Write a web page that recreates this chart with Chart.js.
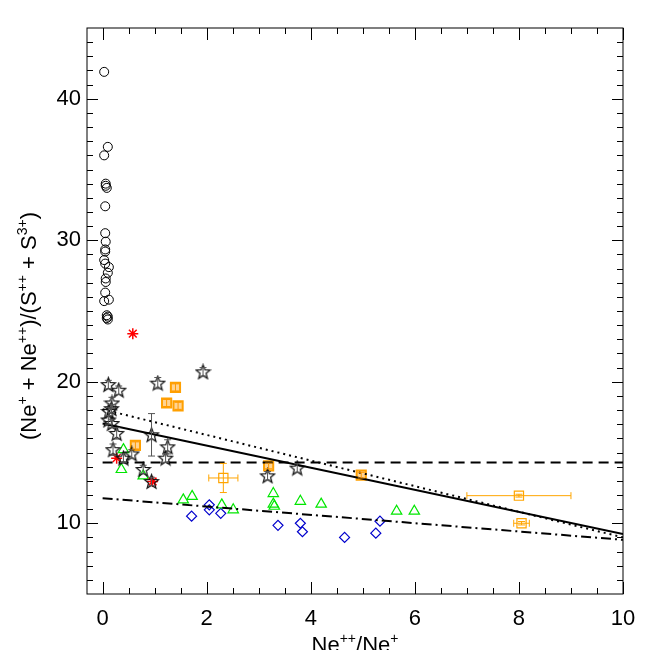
<!DOCTYPE html>
<html>
<head>
<meta charset="utf-8">
<script src="https://cdn.jsdelivr.net/npm/chart.js@4.4.1/dist/chart.umd.min.js"></script>
<style>
  html, body { margin: 0; padding: 0; background: #fff; }
</style>
</head>
<body>
<canvas id="ratioChart" width="650" height="650"></canvas>
<script>
// ---- data ----
const circleX = [0.03, 0.10, 0.03, 0.06, 0.06, 0.08, 0.05, 0.05, 0.06, 0.05, 0.05, 0.03, 0.05, 0.12, 0.10, 0.06, 0.06, 0.05, 0.03, 0.12, 0.08, 0.10, 0.08, 0.10];
const circleY = [41.9, 36.6, 36.0, 34.0, 33.85, 33.7, 32.4, 30.5, 29.9, 29.35, 29.2, 28.6, 28.35, 28.1, 27.7, 27.3, 27.05, 26.3, 25.7, 25.8, 24.7, 24.6, 24.5, 24.4];

const asteriskX = [0.58, 0.27, 0.96];
const asteriskY = [23.4, 14.6, 12.95];

const starX = [0.11, 0.31, 1.06, 1.93, 0.18, 0.17, 0.12, 0.11, 0.18, 0.27, 0.94, 1.25, 0.20, 0.56, 0.40, 1.21, 0.78, 0.94, 3.17, 3.74];
const starY = [19.8, 19.4, 19.9, 20.7, 18.5, 18.1, 17.9, 17.3, 17.05, 16.35, 16.25, 15.4, 15.2, 14.9, 14.6, 14.6, 13.8, 12.95, 13.35, 13.9];
const starErrY = [0.3, 0.3, 0.4, 0.3, 0.4, 0.3, 0.3, 0.3, 0.3, 0.4, 1.5, 0.5, 0.4, 0.3, 0.3, 0.3, 0.3, 0.3, 0.3, 0.3];

const filledSqX = [1.40, 1.23, 1.45, 0.63, 3.19, 4.97];
const filledSqY = [19.6, 18.5, 18.3, 15.5, 14.05, 13.4];
const filledSqErrY = [0.25, 0.25, 0.25, 0.25, 0.2, 0.2];

const openSqX = [2.32, 8.0, 8.05];
const openSqY = [13.2, 11.95, 10.0];
const openSqErrX = [0.28, 1.0, 0.15];
const openSqErrY = [1.03, 0.1, 0.12];

const triX = [0.40, 0.36, 0.78, 1.55, 1.72, 2.29, 2.51, 3.28, 3.28, 3.30, 3.80, 4.20, 5.65, 5.99];
const triY = [15.2, 13.8, 13.35, 11.65, 11.9, 11.3, 10.95, 12.1, 11.35, 11.2, 11.55, 11.35, 10.85, 10.85];

const diamondX = [1.71, 2.05, 2.05, 2.27, 3.37, 3.80, 3.84, 4.65, 5.25, 5.33];
const diamondY = [10.5, 11.3, 10.95, 10.7, 9.85, 10.0, 9.4, 9.0, 9.3, 10.15];

const fitX = [0, 10];
const solidY = [17.05, 9.23];
const dottedY = [18.05, 9.0];
const dashedY = [14.3, 14.3];
const dashDotY = [11.77, 8.83];

const xTicks = [0, 2, 4, 6, 8, 10];
const yTicks = [10, 20, 30, 40];

// ---- helpers ----
const zip = (xs, ys) => xs.map((x, i) => ({ x: x, y: ys[i] }));

function starImage(size, color) {
    const c = document.createElement('canvas');
    c.width = size;
    c.height = size;
    const g = c.getContext('2d');
    const cx = size / 2, cy = size / 2 + 0.5;
    const R = size / 2 - 1, r = R * 0.42;
    g.beginPath();
    for (let i = 0; i < 10; i++) {
        const a = -Math.PI / 2 + i * Math.PI / 5;
        const rr = i % 2 ? r : R;
        g.lineTo(cx + rr * Math.cos(a), cy + rr * Math.sin(a));
    }
    g.closePath();
    g.strokeStyle = color;
    g.lineWidth = 1.2;
    g.stroke();
    return c;
}

const FONT = '"Liberation Sans", Arial, Helvetica, sans-serif';

// draw text made of normal and superscript pieces
function richText(ctx, parts, x, y) {
    const big = '22px ' + FONT, small = '14px ' + FONT;
    let w = 0;
    parts.forEach(p => { ctx.font = p[1] ? small : big; w += ctx.measureText(p[0]).width; });
    let cur = x - w / 2;
    parts.forEach(p => {
        ctx.font = p[1] ? small : big;
        ctx.fillText(p[0], cur, p[1] ? y - 9 : y);
        cur += ctx.measureText(p[0]).width;
    });
}

const framePlugin = {
    id: 'framePlugin',
    afterDatasetsDraw(chart) {
        const { ctx, scales: { x, y } } = chart;
        ctx.save();
        ctx.lineWidth = 1;
        chart.data.datasets.forEach(ds => {
            if (!ds.errY && !ds.errX) return;
            ctx.strokeStyle = ds.errColor;
            ds.data.forEach((p, i) => {
                const px = x.getPixelForValue(p.x), py = y.getPixelForValue(p.y);
                ctx.beginPath();
                if (ds.errY && ds.errY[i]) {
                    const y1 = y.getPixelForValue(p.y - ds.errY[i]);
                    const y2 = y.getPixelForValue(p.y + ds.errY[i]);
                    ctx.moveTo(px, y1); ctx.lineTo(px, y2);
                    ctx.moveTo(px - 3.5, y1); ctx.lineTo(px + 3.5, y1);
                    ctx.moveTo(px - 3.5, y2); ctx.lineTo(px + 3.5, y2);
                }
                if (ds.errX && ds.errX[i]) {
                    const x1 = x.getPixelForValue(p.x - ds.errX[i]);
                    const x2 = x.getPixelForValue(p.x + ds.errX[i]);
                    ctx.moveTo(x1, py); ctx.lineTo(x2, py);
                    ctx.moveTo(x1, py - 3.5); ctx.lineTo(x1, py + 3.5);
                    ctx.moveTo(x2, py - 3.5); ctx.lineTo(x2, py + 3.5);
                }
                ctx.stroke();
            });
        });
        ctx.restore();
    },
    afterDraw(chart) {
        const { ctx, chartArea: a, scales: { x, y } } = chart;
        ctx.save();
        ctx.strokeStyle = '#000';
        ctx.lineWidth = 1;
        ctx.strokeRect(a.left, a.top, a.right - a.left, a.bottom - a.top);
        ctx.beginPath();
        // inward ticks on all four sides
        for (let v = 0; v <= 10.001; v += 0.5) {
            const px = Math.round(x.getPixelForValue(v)) + 0.5;
            const len = Math.abs(v % 2) < 1e-6 ? 12 : 6;
            ctx.moveTo(px, a.bottom); ctx.lineTo(px, a.bottom - len);
            ctx.moveTo(px, a.top); ctx.lineTo(px, a.top + len);
        }
        for (let v = 6; v <= 44; v += 1) {
            const py = Math.round(y.getPixelForValue(v)) + 0.5;
            const len = v % 10 === 0 ? 11 : 6;
            ctx.moveTo(a.left, py); ctx.lineTo(a.left + len, py);
            ctx.moveTo(a.right, py); ctx.lineTo(a.right - len, py);
        }
        ctx.stroke();

        // axis titles with superscripts
        ctx.fillStyle = '#000';
        ctx.textBaseline = 'alphabetic';
        ctx.textAlign = 'left';
        richText(ctx, [['Ne', 0], ['++', 1], ['/Ne', 0], ['+', 1]], (a.left + a.right) / 2, 652);
        ctx.translate(36, 326);
        ctx.rotate(-Math.PI / 2);
        richText(ctx, [['(Ne', 0], ['+', 1], [' + Ne', 0], ['++', 1], [')/(S', 0], ['++', 1], [' + S', 0], ['3+', 1], [')', 0]], 0, 0);
        ctx.restore();
    }
};

const datasets = [
    {
        label: 'fit solid', data: zip(fitX, solidY), showLine: true, pointRadius: 0,
        borderColor: '#000', borderWidth: 2
    },
    {
        label: 'fit dotted', data: zip(fitX, dottedY), showLine: true, pointRadius: 0,
        borderColor: '#000', borderWidth: 2, borderDash: [2, 4]
    },
    {
        label: 'mean dashed', data: zip(fitX, dashedY), showLine: true, pointRadius: 0,
        borderColor: '#000', borderWidth: 2, borderDash: [10, 6]
    },
    {
        label: 'fit dash-dot', data: zip(fitX, dashDotY), showLine: true, pointRadius: 0,
        borderColor: '#000', borderWidth: 2, borderDash: [10, 4, 2, 4]
    },
    {
        label: 'circles', data: zip(circleX, circleY), pointStyle: 'circle', pointRadius: 4.5,
        borderColor: '#000', borderWidth: 1, backgroundColor: 'rgba(0,0,0,0)'
    },
    {
        label: 'stars', data: zip(starX, starY), pointStyle: starImage(17, '#111'),
        errY: starErrY, errColor: '#555'
    },
    {
        label: 'asterisks', data: zip(asteriskX, asteriskY), pointStyle: 'star', pointRadius: 5.5,
        borderColor: '#ff0000', borderWidth: 1.5
    },
    {
        label: 'triangles', data: zip(triX, triY), pointStyle: 'triangle', pointRadius: 6,
        borderColor: '#00e600', borderWidth: 1.2, backgroundColor: 'rgba(0,0,0,0)'
    },
    {
        label: 'diamonds', data: zip(diamondX, diamondY), pointStyle: 'rectRot', pointRadius: 5,
        borderColor: '#0000cc', borderWidth: 1.2, backgroundColor: 'rgba(0,0,0,0)'
    },
    {
        label: 'filled squares', data: zip(filledSqX, filledSqY), pointStyle: 'rect', pointRadius: 6.5,
        borderColor: '#ffa000', borderWidth: 2, backgroundColor: 'rgba(255,170,40,0.5)',
        errY: filledSqErrY, errColor: '#ff9900'
    },
    {
        label: 'open squares', data: zip(openSqX, openSqY), pointStyle: 'rect', pointRadius: 6.5,
        borderColor: '#ffa500', borderWidth: 1.2, backgroundColor: 'rgba(0,0,0,0)',
        errX: openSqErrX, errY: openSqErrY, errColor: '#ffa500'
    }
];

const config = {
    type: 'scatter',
    data: { datasets: datasets },
    options: {
        responsive: false,
        animation: false,
        layout: { padding: { left: 0, top: 28, right: 27, bottom: 0 } },
        plugins: {
            legend: { display: false },
            tooltip: { enabled: false }
        },
        scales: {
            x: {
                type: 'linear',
                min: -0.3,
                max: 10,
                afterFit: s => { s.height = 56; },
                afterBuildTicks: s => { s.ticks = xTicks.map(v => ({ value: v })); },
                grid: { display: false, drawTicks: false },
                border: { display: false },
                ticks: {
                    padding: 12,
                    color: '#000',
                    maxRotation: 0,
                    font: { family: FONT, size: 22 },
                    callback: v => String(v)
                }
            },
            y: {
                type: 'linear',
                min: 5,
                max: 45,
                afterFit: s => { s.width = 87; },
                afterBuildTicks: s => { s.ticks = yTicks.map(v => ({ value: v })); },
                grid: { display: false, drawTicks: false },
                border: { display: false },
                ticks: {
                    padding: 6,
                    color: '#000',
                    font: { family: FONT, size: 22 },
                    callback: v => String(v)
                }
            }
        }
    },
    plugins: [framePlugin]
};

new Chart(document.getElementById('ratioChart'), config);
</script>
</body>
</html>
